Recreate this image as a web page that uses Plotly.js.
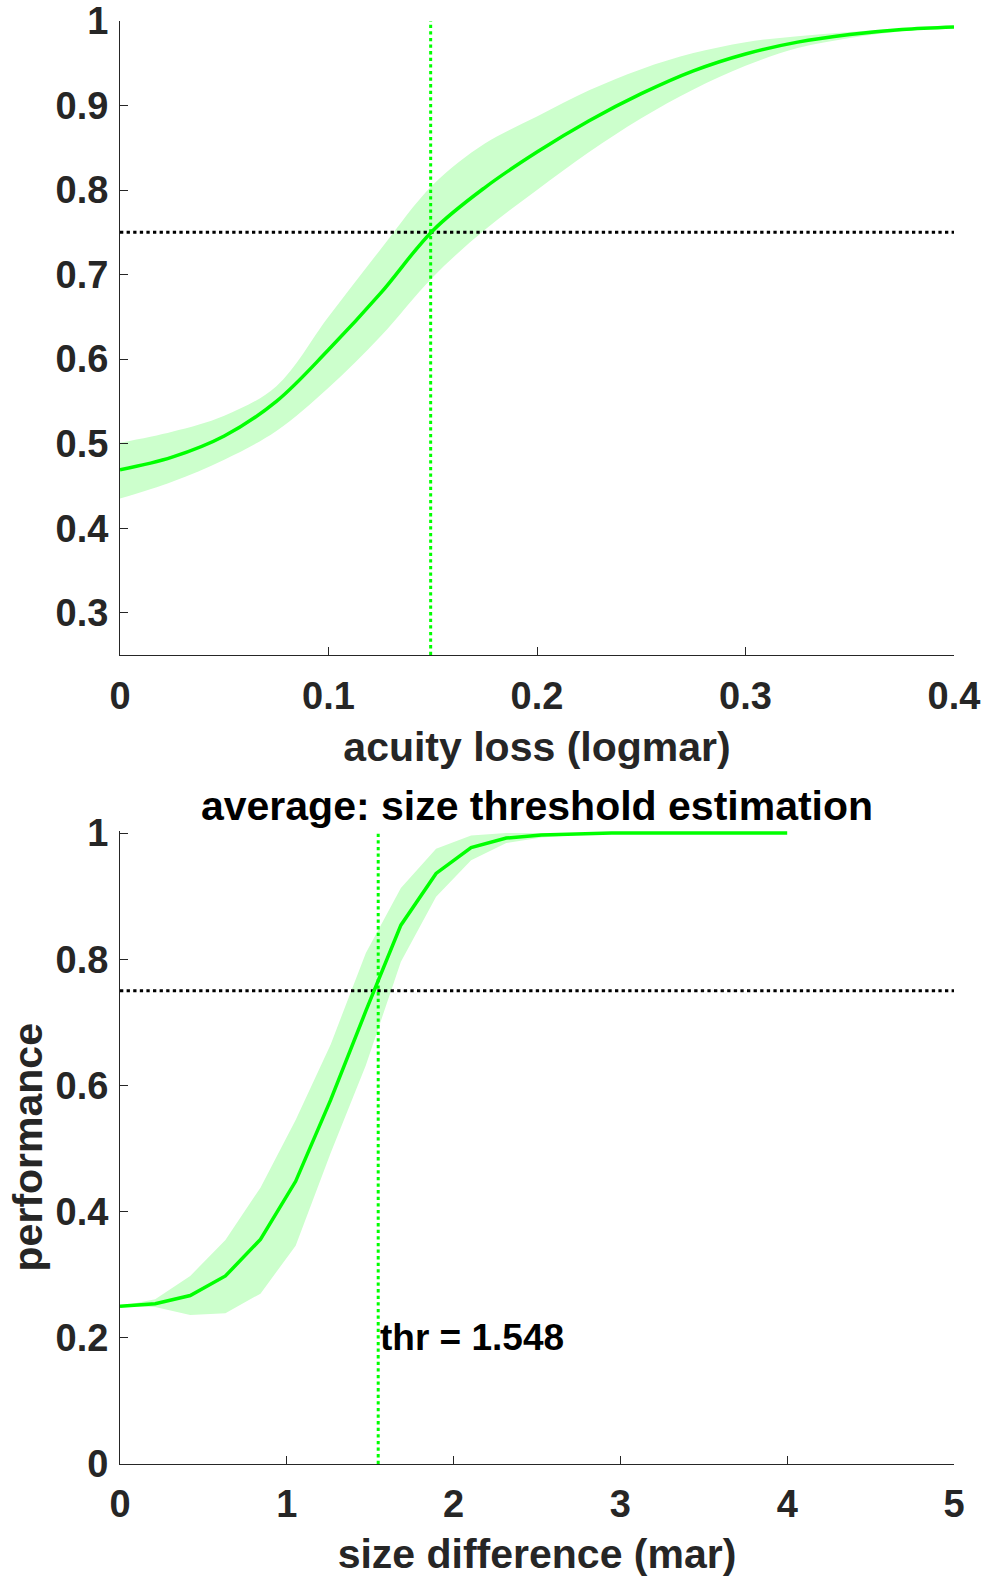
<!DOCTYPE html>
<html>
<head>
<meta charset="utf-8">
<script src="https://cdn.plot.ly/plotly-3.0.1.min.js"></script>
<style>
  html, body { margin: 0; padding: 0; background: #ffffff; }
  #chart { width: 987px; height: 1578px; }
</style>
</head>
<body>
<div id="chart"></div>
<script>
// Upper panel: performance vs acuity loss (logmar), mean fit with confidence band
const acuityLoss = [0, 0.025, 0.05, 0.075, 0.1, 0.125, 0.15, 0.175, 0.2, 0.225, 0.25, 0.275, 0.3, 0.325, 0.35, 0.375, 0.4];
const acuityMean = [0.469, 0.484, 0.509, 0.550, 0.611, 0.678, 0.752, 0.803, 0.845, 0.882, 0.914, 0.941, 0.961, 0.975, 0.984, 0.990, 0.993];
const acuityUpper = [0.501, 0.514, 0.533, 0.568, 0.650, 0.730, 0.806, 0.855, 0.887, 0.918, 0.943, 0.962, 0.975, 0.982, 0.987, 0.991, 0.994];
const acuityLower = [0.435, 0.455, 0.481, 0.515, 0.566, 0.627, 0.697, 0.753, 0.800, 0.845, 0.885, 0.919, 0.947, 0.968, 0.980, 0.988, 0.992];
const acuityThr = 0.149;
const acuityTicks = [0, 0.1, 0.2, 0.3, 0.4];
const acuityTickText = ['0', '0.1', '0.2', '0.3', '0.4'];
const perfTicksTop = [0.3, 0.4, 0.5, 0.6, 0.7, 0.8, 0.9, 1];
const perfTickTextTop = ['0.3', '0.4', '0.5', '0.6', '0.7', '0.8', '0.9', '1'];

// Lower panel: average size threshold estimation
const sizeDiff = [0, 0.211, 0.421, 0.632, 0.842, 1.053, 1.263, 1.474, 1.684, 1.895, 2.105, 2.316, 2.526, 2.737, 2.947, 3.158, 3.368, 3.579, 3.789, 4];
const sizeMean = [0.250, 0.254, 0.267, 0.298, 0.356, 0.448, 0.577, 0.718, 0.854, 0.936, 0.977, 0.992, 0.997, 0.999, 1.0, 1.0, 1.0, 1.0, 1.0, 1.0];
const sizeUpper = [0.250, 0.261, 0.298, 0.355, 0.438, 0.545, 0.665, 0.810, 0.913, 0.975, 0.996, 1.0, 1.0, 1.0, 1.0, 1.0, 1.0, 1.0, 1.0, 1.0];
const sizeLower = [0.250, 0.249, 0.236, 0.239, 0.270, 0.346, 0.493, 0.632, 0.796, 0.899, 0.957, 0.984, 0.993, 0.997, 0.999, 1.0, 1.0, 1.0, 1.0, 1.0];
const sizeThr = 1.548;
const sizeTicks = [0, 1, 2, 3, 4, 5];
const sizeTickText = ['0', '1', '2', '3', '4', '5'];
const perfTicksBottom = [0, 0.2, 0.4, 0.6, 0.8, 1];
const perfTickTextBottom = ['0', '0.2', '0.4', '0.6', '0.8', '1'];

const criterion = 0.75;

const GREEN = '#00ff00';
const BAND = '#ccffcc';
const AXIS = '#262626';
const FONT = 'Liberation Sans, Arial, Helvetica, sans-serif';

function bandTraces(x, lo, hi, xa, ya, shape) {
  return [
    { x: x, y: lo, xaxis: xa, yaxis: ya, mode: 'lines', line: { width: 0, shape: shape }, hoverinfo: 'skip', showlegend: false },
    { x: x, y: hi, xaxis: xa, yaxis: ya, mode: 'lines', line: { width: 0, shape: shape }, fill: 'tonexty', fillcolor: BAND, hoverinfo: 'skip', showlegend: false }
  ];
}

function refLine(x, y, xa, ya, color) {
  return { x: x, y: y, xaxis: xa, yaxis: ya, mode: 'lines', line: { color: color, width: 3, dash: '3.3px,3.3px' }, hoverinfo: 'skip', showlegend: false };
}

const traces = [
  ...bandTraces(acuityLoss, acuityLower, acuityUpper, 'x', 'y', 'spline'),
  refLine([acuityTicks[0], acuityTicks[acuityTicks.length - 1]], [criterion, criterion], 'x', 'y', '#000000'),
  refLine([acuityThr, acuityThr], [0.25, 1], 'x', 'y', GREEN),
  { x: acuityLoss, y: acuityMean, xaxis: 'x', yaxis: 'y', mode: 'lines', line: { color: GREEN, width: 3.5, shape: 'spline' }, showlegend: false },

  ...bandTraces(sizeDiff, sizeLower, sizeUpper, 'x2', 'y2', 'linear'),
  refLine([sizeTicks[0], sizeTicks[sizeTicks.length - 1]], [criterion, criterion], 'x2', 'y2', '#000000'),
  refLine([sizeThr, sizeThr], [0, 1], 'x2', 'y2', GREEN),
  { x: sizeDiff, y: sizeMean, xaxis: 'x2', yaxis: 'y2', mode: 'lines', line: { color: GREEN, width: 3.5 }, showlegend: false }
];

const W = 987, H = 1578;
const xDom = [120 / W, 954 / W];

const tickFont = { family: FONT, size: 38, color: AXIS, weight: 'bold' };
const titleFont = { family: FONT, size: 41, color: AXIS, weight: 'bold' };

const axisBase = {
  ticks: 'inside', ticklen: 8, tickwidth: 1, tickcolor: AXIS,
  showline: true, linecolor: AXIS, linewidth: 1,
  showgrid: false, zeroline: false, tickmode: 'array',
  tickfont: tickFont, fixedrange: true
};

const layout = {
  width: W, height: H,
  margin: { l: 0, r: 0, t: 0, b: 0 },
  paper_bgcolor: '#ffffff', plot_bgcolor: '#ffffff',
  showlegend: false,
  font: { family: FONT },
  title: {
    text: 'average: size threshold estimation',
    font: { family: FONT, size: 41, color: '#000000', weight: 'bold' },
    xref: 'paper', yref: 'paper', x: 537 / W, xanchor: 'center',
    y: 1 - 806 / H, yanchor: 'middle'
  },
  xaxis: Object.assign({}, axisBase, {
    domain: xDom, anchor: 'y', range: [0, 0.4],
    tickvals: acuityTicks, ticktext: acuityTickText, ticklabelstandoff: 7,
    title: { text: 'acuity loss (logmar)', font: titleFont, standoff: 16 }
  }),
  yaxis: Object.assign({}, axisBase, {
    domain: [1 - 655 / H, 1 - 21 / H], anchor: 'x', range: [0.25, 1],
    tickvals: perfTicksTop, ticktext: perfTickTextTop, ticklabelstandoff: 3
  }),
  xaxis2: Object.assign({}, axisBase, {
    domain: xDom, anchor: 'y2', range: [0, 5],
    tickvals: sizeTicks, ticktext: sizeTickText, ticklabelstandoff: 6,
    title: { text: 'size difference (mar)', font: titleFont, standoff: 15 }
  }),
  yaxis2: Object.assign({}, axisBase, {
    domain: [1 - 1464 / H, 1 - 830.5 / H], anchor: 'x2', range: [0, 1.004],
    tickvals: perfTicksBottom, ticktext: perfTickTextBottom, ticklabelstandoff: 3,
    title: { text: 'performance', font: titleFont, standoff: 0 }
  }),
  annotations: [{
    text: 'thr = ' + sizeThr.toFixed(3),
    x: sizeThr, y: 0.2, xref: 'x2', yref: 'y2',
    xanchor: 'left', yanchor: 'middle', showarrow: false,
    font: { family: FONT, size: 37, color: '#000000', weight: 'bold' }
  }]
};

Plotly.newPlot('chart', traces, layout, { staticPlot: true, displayModeBar: false });
</script>
</body>
</html>
